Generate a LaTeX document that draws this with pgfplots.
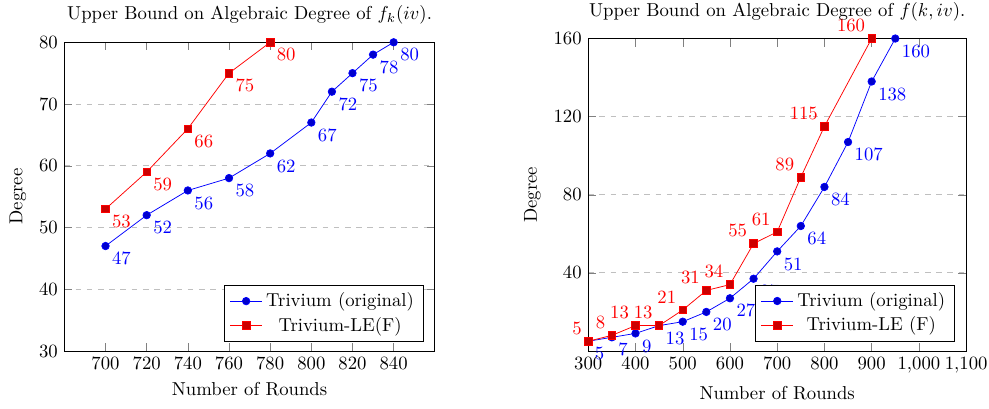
\documentclass[border=0pt]{standalone}
\usepackage{pgfplots}
\pgfplotsset{compat=1.18}
\begin{document}
\begin{tikzpicture}
\pgfplotsset{
  common/.style={
    scale only axis,
    ymajorgrids,
    grid style={dashed,black!25},
    xlabel={Number of Rounds},
    ylabel={Degree},
    legend pos=south east,
    legend cell align=center,
    nodes near coords,
    every node near coord/.append style={font=\normalsize},
  }
}
\begin{axis}[common,
  at={(0pt,0pt)}, anchor=south west,
  width=198pt, height=165pt,
  xmin=680, xmax=860, ymin=30, ymax=80,
  xtick={700,720,...,840}, ytick={30,40,...,80},
  title={Upper Bound on Algebraic Degree of $f_k(iv)$.},
  every node near coord/.append style={anchor=north west},
]
\addplot coordinates {(700,47)(720,52)(740,56)(760,58)(780,62)(800,67)(810,72)(820,75)(830,78)(840,80)};
\addlegendentry{Trivium (original)}
\addplot coordinates {(700,53)(720,59)(740,66)(760,75)(780,80)};
\addlegendentry{Trivium-LE(F)}
\end{axis}
\begin{axis}[common,
  at={(280pt,0pt)}, anchor=south west,
  width=202pt, height=167pt,
  xmin=300, xmax=1100, ymin=0, ymax=160,
  xtick={300,400,...,1100}, ytick={40,80,120,160},
  title={Upper Bound on Algebraic Degree of $f(k,iv)$.},
]
\addplot+[every node near coord/.append style={anchor=north west}] coordinates {(300,5)(350,7)(400,9)(450,13)(500,15)(550,20)(600,27)(650,37)(700,51)(750,64)(800,84)(850,107)(900,138)(950,160)};
\addlegendentry{Trivium (original)}
\addplot+[every node near coord/.append style={anchor=south east}] coordinates {(300,5)(350,8)(400,13)(450,13)(500,21)(550,31)(600,34)(650,55)(700,61)(750,89)(800,115)(900,160)};
\addlegendentry{Trivium-LE (F)}
\end{axis}
\pgfresetboundingbox
\useasboundingbox (-34.4pt,-31pt) rectangle (494.2pt,187.6pt);
\end{tikzpicture}
\end{document}
